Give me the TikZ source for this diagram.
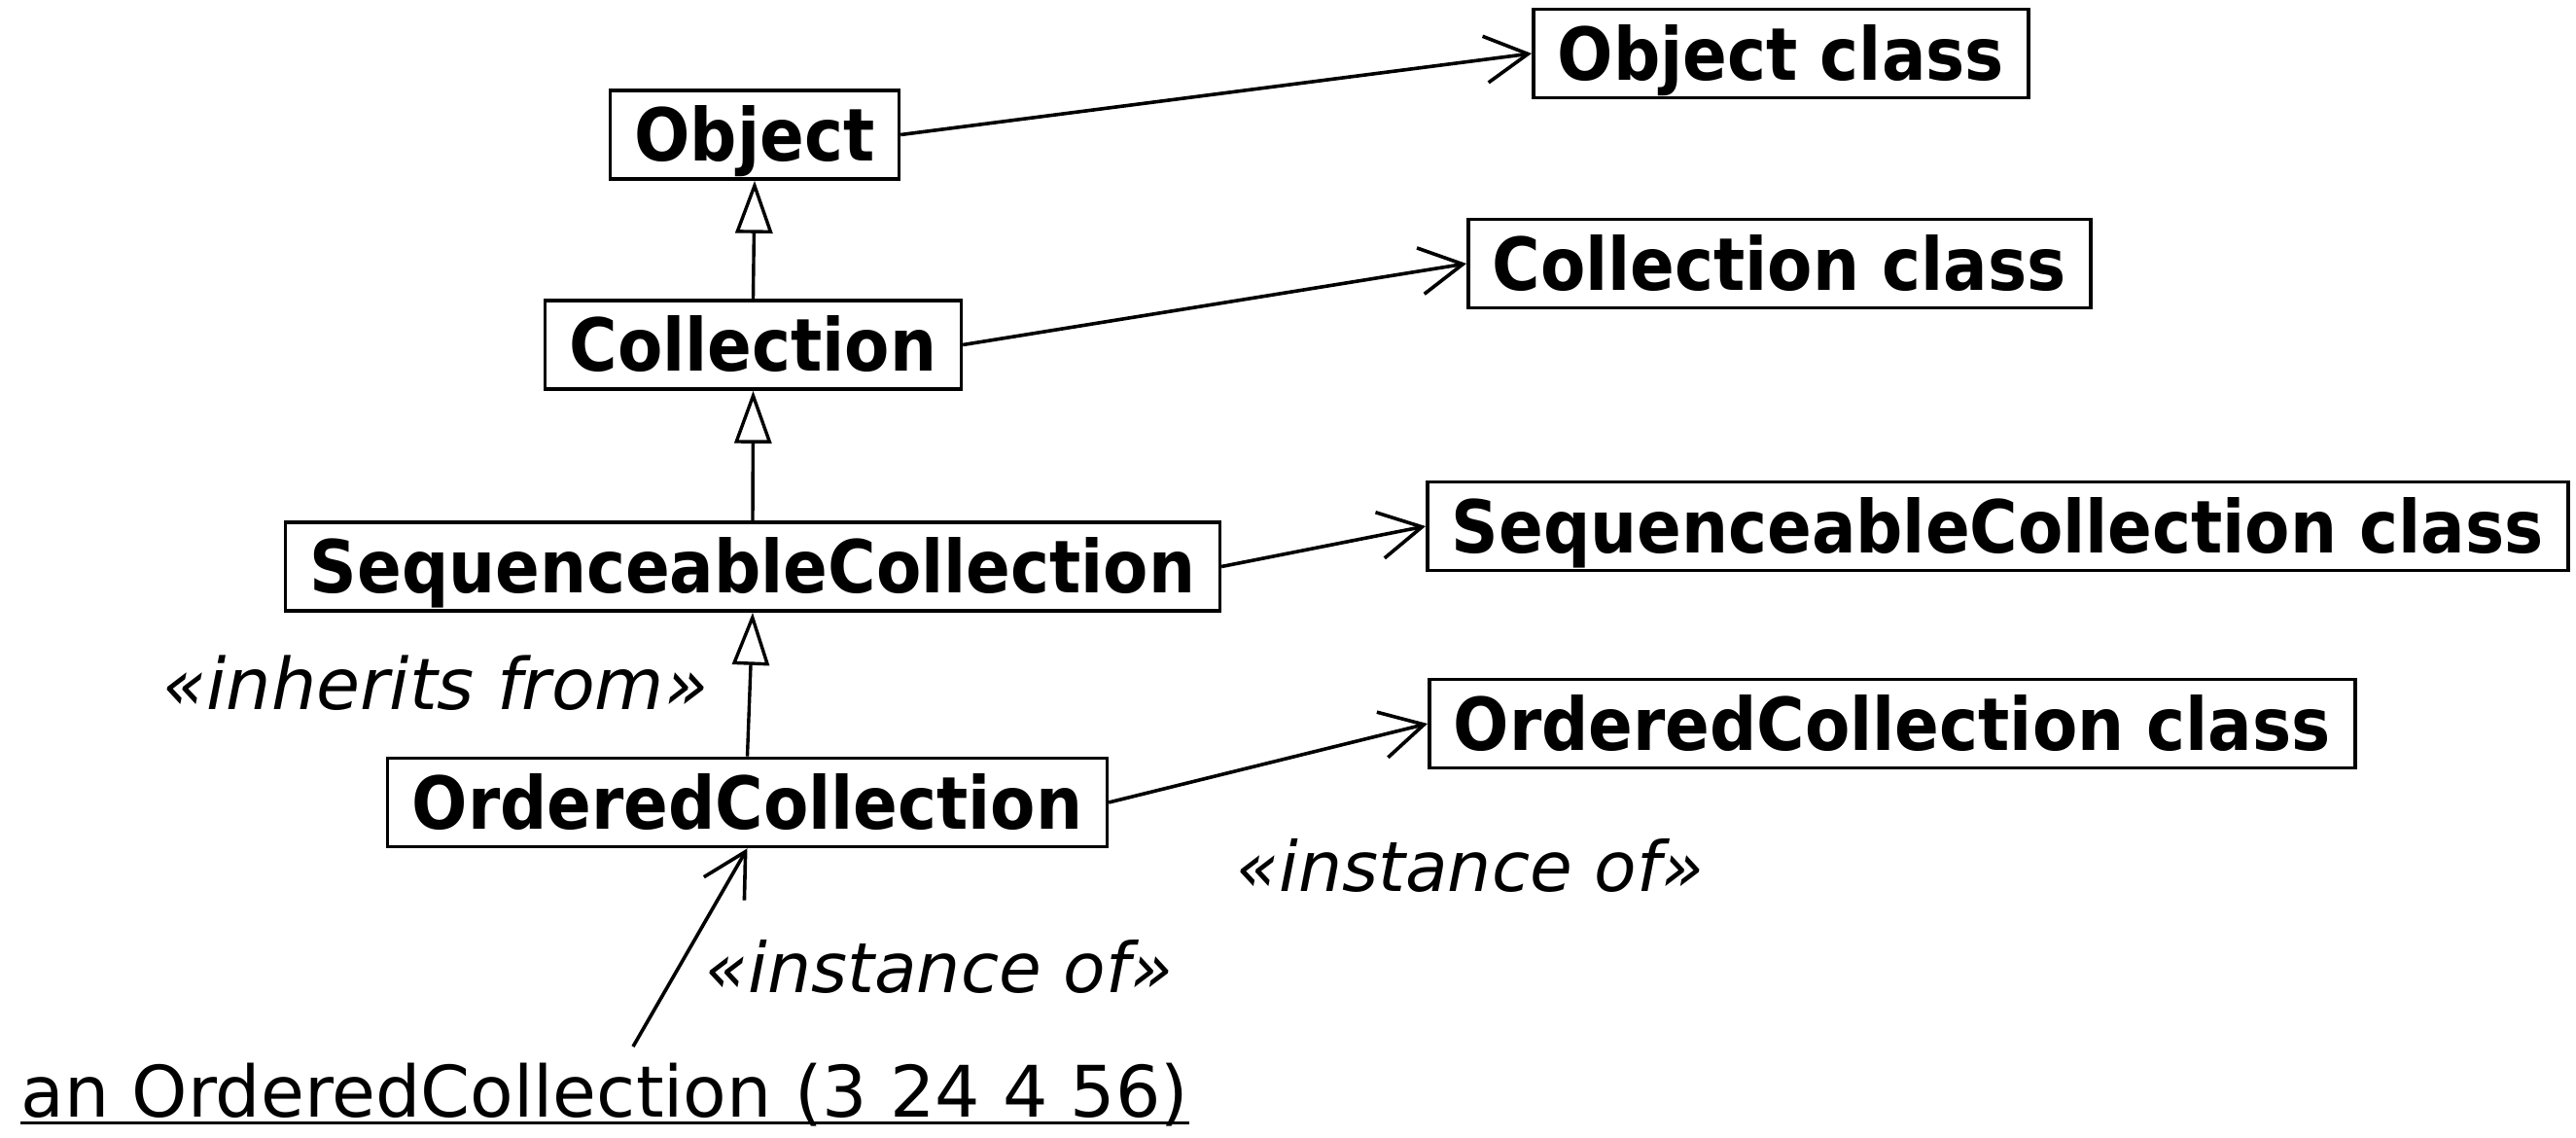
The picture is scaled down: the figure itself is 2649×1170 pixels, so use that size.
\documentclass[tikz,border=0pt]{standalone}
\usepackage{fontspec}
\setmainfont{DejaVu Sans}
\newfontfamily\condfont{DejaVu Sans Condensed}[BoldFont={DejaVu Sans Condensed Bold}]
\usetikzlibrary{arrows.meta}
\tikzset{
  cls/.style={draw, line width=1.8pt, font=\condfont\bfseries\fontsize{37.5}{40}\selectfont,
    text height=27.3pt, text depth=0pt, inner ysep=9.1pt, inner xsep=12.5pt},
  lbl/.style={font=\itshape\fontsize{36}{40}\selectfont, inner sep=0pt, anchor=base west},
  inherit/.style={line width=1.7pt, -{Triangle[open, length=27pt, width=19pt, line width=1.7pt]}},
  instof/.style={line width=1.8pt, -{Straight Barb[length=22pt, width=24pt, line width=1.8pt]}}
}
\begin{document}
\begin{tikzpicture}[x=0.5pt, y=-0.5pt]
\useasboundingbox (0,0) rectangle (2649,1170);
% left column
\node[cls] (obj) at (776,138.5) {Object};
\node[cls] (coll) at (774.5,354.5) {Collection};
\node[cls] (seq) at (774,582.5) {SequenceableCollection};
\node[cls] (ord) at (768.5,825) {OrderedCollection};
% right column
\node[cls, anchor=west] (objc) at (1575,55) {Object class};
\node[cls, anchor=west] (collc) at (1508,271) {Collection class};
\node[cls, anchor=west] (seqc) at (1466,541) {SequenceableCollection class};
\node[cls, anchor=west] (ordc) at (1468,744) {OrderedCollection class};
% instance
\node[font=\fontsize{36.5}{40}\selectfont, inner sep=0pt, anchor=base west] (inst) at (21,1148) {an OrderedCollection (3 24 4 56)};
\draw[line width=1.5pt] ([yshift=-3.2pt]inst.base west) -- ([yshift=-3.2pt]inst.base east);
\coordinate (instTail) at (651,1076);
% labels
\node[lbl, font=\itshape\fontsize{36.6}{40}\selectfont] (inhl) at (167,729) {«inherits from»};
\node[lbl, font=\itshape\fontsize{35.6}{40}\selectfont] (inst1) at (725,1020) {«instance of»};
\node[lbl, font=\itshape\fontsize{35.6}{40}\selectfont] (inst2) at (1271,916) {«instance of»};
% inheritance
\draw[inherit] (coll.north) -- (obj.south);
\draw[inherit] (seq.north) -- (coll.south);
\draw[inherit] (ord.north) -- (seq.south);
% instance-of
\draw[instof] (obj.east) -- (objc.west);
\draw[instof] (coll.east) -- (collc.west);
\draw[instof] (seq.east) -- (seqc.west);
\draw[instof] (ord.east) -- (ordc.west);
\draw[instof] (instTail) -- (ord.south);
\end{tikzpicture}
\end{document}
